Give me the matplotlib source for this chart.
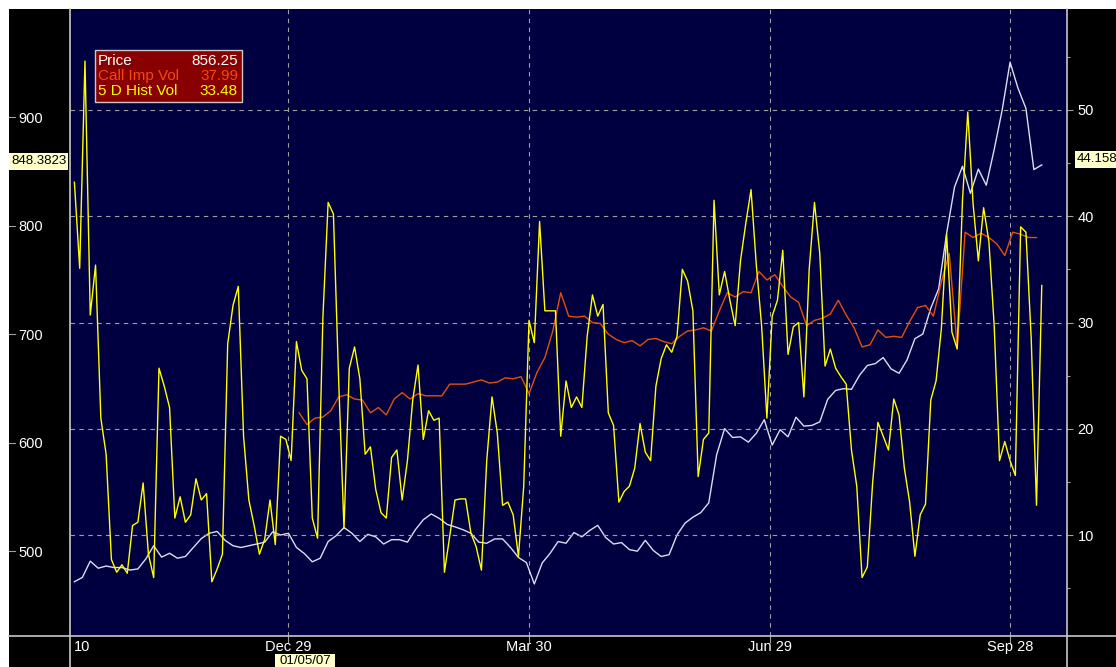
import matplotlib
matplotlib.use('Agg')
import matplotlib.pyplot as plt
from matplotlib import font_manager
from matplotlib.lines import Line2D
from matplotlib.patches import Rectangle
import pandas as pd

# 价格（左轴），每3天一个点
price_dates = pd.date_range('2006-10-09', '2007-10-10', freq='3D')
price = [472, 476, 491, 484.5, 486.5, 485.1, 485.1, 482.8, 483.8, 493.0,
         505.2, 494.7, 498.3, 493.7, 495.3, 503.6, 511.8, 516.7, 518.4, 510.2,
         505.2, 503.6, 505.2, 506.8, 508.5, 518.0, 515.1, 516.7, 503.6, 498.0,
         490.4, 493.7, 509.1, 514.4, 522.0, 516.7, 509.1, 515.7, 513.4, 506.8,
         510.8, 510.8, 508.5, 520.0, 529.2, 534.5, 530.5, 524.9, 522.6, 520.0,
         516.7, 508.5, 507.5, 511.5, 511.5, 503.6, 494.4, 489.7, 470.0, 489.4,
         498.3, 509.1, 507.5, 517.4, 513.4, 519.4, 524.0, 512.8, 506.8, 508.1,
         501.6, 500.2, 510.2, 500.9, 495.3, 497.0, 515.1, 526.0, 531.5, 535.8,
         544.7, 589.2, 613.2, 605.0, 605.6, 600.7, 608.9, 621.4, 598.0, 612.2,
         605.6, 623.7, 615.5, 616.1, 619.4, 640.2, 648.4, 650.0, 649.4, 662.2,
         671.4, 673.1, 678.7, 668.2, 664.2, 676.4, 696.1, 700.4, 724.1, 742.2,
         793.2, 836, 855, 830.1, 852.4, 837.6, 870.5, 906.7, 951, 927,
         908.4, 852, 856.25]

# 5日历史波动率（右轴），每2天一个点
hist_dates = pd.date_range('2006-10-09', '2007-10-10', freq='2D')
hist_vol = [43.2, 35.1, 54.6, 30.7, 35.4, 21.0, 17.6, 7.7, 6.5, 7.2,
            6.4, 10.9, 11.2, 14.9, 8.2, 6.0, 25.7, 24.0, 22.0, 11.6,
            13.6, 11.2, 11.9, 15.3, 13.3, 13.9, 5.6, 6.8, 8.2, 28.0,
            31.6, 33.4, 19.3, 13.3, 10.9, 8.2, 9.6, 13.3, 9.1, 19.3,
            19.0, 17.0, 28.2, 25.5, 24.7, 11.6, 9.7, 30.4, 41.3, 40.2,
            24.4, 10.6, 25.7, 27.7, 24.7, 17.6, 18.3, 14.3, 12.1, 11.6,
            17.3, 18.0, 13.3, 17.0, 22.7, 26.0, 19.0, 21.7, 20.8, 21.0,
            6.5, 9.9, 13.3, 13.4, 13.4, 10.2, 8.9, 6.7, 17.0, 23.0,
            19.6, 12.8, 13.1, 11.9, 8.0, 14.6, 30.2, 28.1, 39.5, 31.1,
            31.1, 31.1, 19.3, 24.5, 22.0, 23.0, 22.0, 28.7, 32.6, 30.6,
            31.7, 21.5, 20.3, 13.1, 14.1, 14.6, 16.3, 20.5, 17.8, 17.0,
            24.0, 26.6, 27.9, 27.2, 28.7, 35.0, 33.9, 31.1, 15.5, 19.0,
            19.6, 41.5, 32.6, 34.8, 32.1, 29.7, 35.8, 39.3, 42.5, 35.4,
            29.7, 21.0, 30.6, 32.1, 36.8, 27.0, 29.6, 30.0, 23.0, 35.0,
            41.3, 36.5, 25.9, 27.5, 25.7, 24.9, 24.2, 18.0, 14.6, 6.0,
            7.0, 14.9, 20.6, 19.3, 18.0, 22.8, 21.3, 16.3, 13.1, 8.0,
            11.9, 12.9, 22.7, 24.5, 29.4, 38.3, 29.1, 27.5, 41.5, 49.8,
            41.2, 35.8, 40.8, 37.6, 29.7, 17.0, 18.8, 17.0, 15.6, 39.0,
            38.5, 28.5, 12.8, 33.48]

# 看涨期权隐含波动率（右轴），每3天一个点
imp_dates = pd.date_range('2007-01-02', '2007-10-08', freq='3D')
imp_vol = [21.5, 20.4, 21.0, 21.1, 21.7, 23.0, 23.2, 22.8, 22.7, 21.5,
           22.0, 21.3, 22.8, 23.4, 22.8, 23.3, 23.1, 23.1, 23.1, 24.2,
           24.2, 24.2, 24.4, 24.6, 24.3, 24.4, 24.8, 24.7, 24.9, 23.3,
           25.3, 26.7, 29.2, 32.8, 30.6, 30.5, 30.6, 30.0, 29.9, 28.9,
           28.4, 28.1, 28.3, 27.8, 28.4, 28.5, 28.2, 28.0, 28.7, 29.2,
           29.3, 29.5, 29.2, 31.1, 32.8, 32.4, 32.9, 32.8, 34.8, 34.0,
           34.5, 33.4, 32.4, 31.9, 29.7, 30.2, 30.4, 30.8, 32.1, 30.7,
           29.5, 27.7, 27.9, 29.3, 28.6, 28.7, 28.6, 30.1, 31.4, 31.6,
           30.6, 33.8, 36.5, 27.7, 38.5, 38.0, 38.4, 38.0, 37.4, 36.3,
           38.5, 38.3, 38.0, 37.99]

price_ticks = [500, 600, 700, 800, 900]
vol_ticks = [10, 20, 30, 40, 50]
vol_minor = [5, 15, 25, 35, 45, 55]
date_ticks = pd.to_datetime(['2006-10-12', '2006-12-29', '2007-03-30', '2007-06-29', '2007-09-28'])
date_labels = ['10', 'Dec 29', 'Mar 30', 'Jun 29', 'Sep 28']

# 字体：优先用窄体
names = {f.name for f in font_manager.fontManager.ttflist}
if 'Liberation Sans Narrow' in names:
    FONT, FS = 'Liberation Sans Narrow', 12.5
else:
    FONT, FS = 'Liberation Sans', 10.5
plt.rcParams['font.family'] = [FONT, 'DejaVu Sans']

W, H = 1116, 667
fig = plt.figure(figsize=(W / 100, H / 100), dpi=100)
fig.patch.set_facecolor('white')
fig.add_artist(Rectangle((9 / W, 0), 1 - 9 / W, (H - 9) / H, transform=fig.transFigure,
                         facecolor='black', edgecolor='none', zorder=-10))

ax = fig.add_axes([70 / W, (H - 636) / H, 997 / W, 627 / H])
ax.set_facecolor('#000040')
ax.plot(price_dates, price, color='#dcdcf2', lw=1.0, zorder=3)
ax.set_ylim(422, 1000)
ax.set_xlim(pd.Timestamp('2006-10-07 08:00'), pd.Timestamp('2007-10-19 13:00'))

ax2 = ax.twinx()
ax2.plot(imp_dates, imp_vol, color='#e2500c', lw=1.0)
ax2.plot(hist_dates, hist_vol, color='#ffff00', lw=1.0)
ax2.set_ylim(0.5, 59.5)

for a in (ax, ax2):
    for s in a.spines.values():
        s.set_visible(False)

grid_kw = dict(color='#a0a0a0', lw=0.8, ls=(0, (4, 4)))

# 右轴：波动率
ax2.set_yticks(vol_ticks)
ax2.set_yticks(vol_minor, minor=True)
ax2.tick_params(axis='y', which='major', length=4.5, width=0.8, color='#a0a0a0',
                labelcolor='white', labelsize=FS, pad=3)
ax2.tick_params(axis='y', which='minor', length=2.5, width=0.8, color='#a0a0a0')
ax2.yaxis.grid(True, **grid_kw)

# 左轴：价格，标签左对齐
ax.set_yticks(price_ticks)
ax.tick_params(axis='y', length=0, pad=37.4, labelcolor='white', labelsize=FS)
for lbl in ax.get_yticklabels():
    lbl.set_horizontalalignment('left')
for v in price_ticks:
    ax.plot([-0.0612, -0.0555], [v, v], transform=ax.get_yaxis_transform(),
            color='#a0a0a0', lw=0.8, clip_on=False)

# 底部日期
ax.set_xticks(date_ticks)
ax.set_xticklabels(date_labels)
ax.tick_params(axis='x', length=5, width=0.8, color='#a0a0a0', labelcolor='white',
               labelsize=FS, pad=-2)
ax.xaxis.grid(True, **grid_kw)
first = ax.xaxis.get_major_ticks()[0]
first.gridline.set_visible(False)
first.tick1line.set_visible(False)

# 面板分隔线
line_kw = dict(transform=fig.transFigure, color='#c8c8c8', lw=1.2)
fig.add_artist(Line2D([70 / W, 70 / W], [0, (H - 9) / H], **line_kw))
fig.add_artist(Line2D([1067 / W, 1067 / W], [0, (H - 9) / H], **line_kw))
fig.add_artist(Line2D([9 / W, 1], [(H - 636) / H, (H - 636) / H], **line_kw))

# 图例框
fig.add_artist(Rectangle((95 / W, (H - 102) / H), 147 / W, 52 / H, transform=fig.transFigure,
                         facecolor='#880000', edgecolor='#c8c8c8', lw=1.0, zorder=5))
rows = [('Price', f'{price[-1]:.2f}', 'white'),
        ('Call Imp Vol', f'{imp_vol[-1]:.2f}', '#f04a10'),
        ('5 D Hist Vol', f'{hist_vol[-1]:.2f}', '#ffff00')]
for k, (name, val, col) in enumerate(rows):
    yy = (H - (61 + 15 * k)) / H
    fig.text(98 / W, yy, name, color=col, fontsize=FS + 0.5, ha='left', va='center', zorder=6)
    fig.text(238 / W, yy, val, color=col, fontsize=FS + 0.5, ha='right', va='center', zorder=6)

# 十字光标数值框
box_col = '#ffffcc'
fig.add_artist(Rectangle((9 / W, (H - 170) / H), 59 / W, 17 / H, transform=fig.transFigure,
                         facecolor=box_col, edgecolor='none', zorder=5))
fig.text(38.5 / W, (H - 161.5) / H, '848.3823', color='black', fontsize=FS - 1,
         ha='center', va='center', zorder=6)
fig.add_artist(Rectangle((1075 / W, (H - 168) / H), 41 / W, 17 / H, transform=fig.transFigure,
                         facecolor=box_col, edgecolor='none', zorder=5))
fig.text(1077 / W, (H - 159.5) / H, '44.158', color='black', fontsize=FS - 1,
         ha='left', va='center', zorder=6)
fig.add_artist(Rectangle((275 / W, 0), 60 / W, 13 / H, transform=fig.transFigure,
                         facecolor=box_col, edgecolor='none', zorder=5))
fig.text(305 / W, (H - 661) / H, '01/05/07', color='black', fontsize=FS - 1,
         ha='center', va='center', zorder=6)

fig.savefig('out.png', dpi=100)
